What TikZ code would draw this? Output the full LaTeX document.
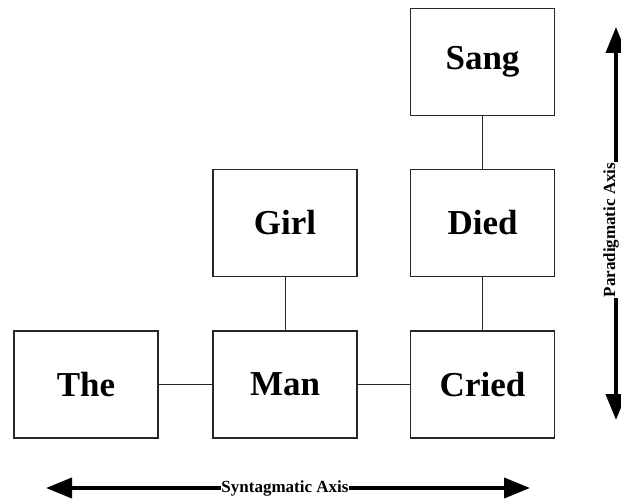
\documentclass[tikz,border=0pt]{standalone}
\usepackage{fontspec}
\setmainfont{Liberation Serif}
\usetikzlibrary{arrows.meta}
\begin{document}
\begin{tikzpicture}[x=1pt,y=-1pt,
  word/.style={draw=black!85, line width=1.2pt, minimum width=144pt, minimum height=107pt,
    inner sep=0pt, font=\bfseries\fontsize{35}{40}\selectfont},
  link/.style={draw=black!85, line width=0.9pt},
  axis/.style={line width=4pt, {Triangle[length=26pt,width=20pt]}-{Triangle[length=26pt,width=20pt]}},
  axislabel/.style={fill=white, inner sep=0.5pt, font=\bfseries\fontsize{17}{18}\selectfont}]
\useasboundingbox (0,0) rectangle (621,500);
% word boxes
\node[word] (sang)  at (482.5,62)  {Sang};
\node[word] (girl)  at (285,223)   {Girl};
\node[word] (died)  at (482.5,223) {Died};
\node[word] (the)   at (86,384.5)  {The};
\node[word] (man)   at (285,384.5) {Man};
\node[word] (cried) at (482.5,384.5) {Cried};
% links between words
\draw[link] (the) -- (man);
\draw[link] (man) -- (cried);
\draw[link] (man) -- (girl);
\draw[link] (cried) -- (died);
\draw[link] (died) -- (sang);
% axes
\coordinate (pTop) at (616,27);
\coordinate (pBot) at (616,420);
\coordinate (sLeft) at (46,488);
\coordinate (sRight) at (530,488);
\draw[axis] (pTop) -- (pBot);
\draw[axis] (sLeft) -- (sRight);
\node[axislabel, rotate=90] (plabel) at (611,230) {Paradigmatic Axis};
\node[axislabel] (slabel) at (285,488) {Syntagmatic Axis};
\end{tikzpicture}
\end{document}
